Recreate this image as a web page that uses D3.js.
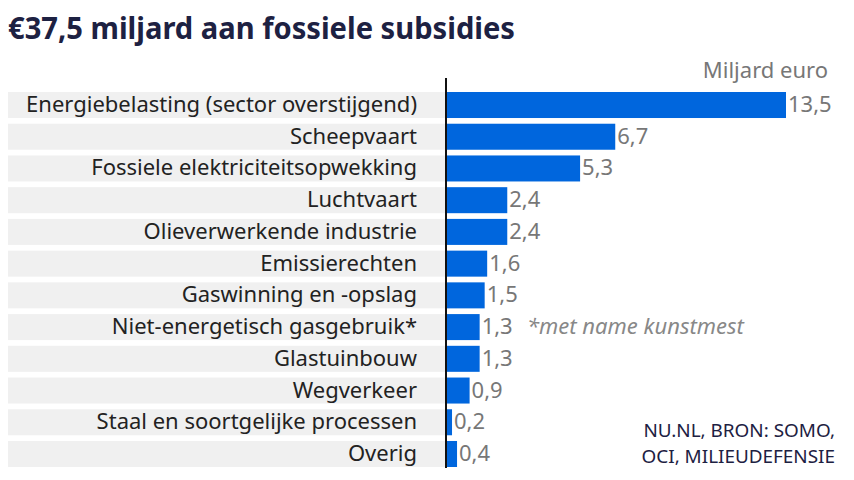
<!DOCTYPE html>
<html><head><meta charset="utf-8">
<script src="https://cdn.jsdelivr.net/npm/d3@7"></script>
<style>body{margin:0;background:#fff}svg{display:block}text{font-family:"Noto Sans",sans-serif}</style>
</head><body><svg id="c" width="854" height="480"></svg>
<script>
const categories = ["Energiebelasting (sector overstijgend)","Scheepvaart","Fossiele elektriciteitsopwekking","Luchtvaart","Olieverwerkende industrie","Emissierechten","Gaswinning en -opslag","Niet-energetisch gasgebruik*","Glastuinbouw","Wegverkeer","Staal en soortgelijke processen","Overig"];
const values = [13.5,6.7,5.3,2.4,2.4,1.6,1.5,1.3,1.3,0.9,0.2,0.4];
const valueLabels = ["13,5","6,7","5,3","2,4","2,4","1,6","1,5","1,3","1,3","0,9","0,2","0,4"];

const svg = d3.select("#c");
const x0 = 447;
const x = d3.scaleLinear().domain([0,13.5]).range([x0,786]);
const y = d3.scaleBand().domain(categories).range([92,467]).paddingInner(0.18).paddingOuter(0);

svg.append("text").attr("x",8).attr("y",39).attr("font-size",30).attr("font-weight",700).attr("fill","#1d2142")
  .attr("textLength",507).attr("lengthAdjust","spacingAndGlyphs").text("€37,5 miljard aan fossiele subsidies");

const rows = svg.append("g");
rows.selectAll("rect.band").data(categories).join("rect")
  .attr("x",8).attr("width",x0-8).attr("y",d=>y(d)).attr("height",y.bandwidth()).attr("fill","#f0f0f0");
rows.selectAll("rect.bar").data(values).join("rect")
  .attr("x",x0).attr("y",(d,i)=>y(categories[i])).attr("height",y.bandwidth())
  .attr("width",d=>x(d)-x0).attr("fill","#0066dd");
rows.selectAll("text.lab").data(categories).join("text")
  .attr("x",417).attr("y",d=>y(d)+y.bandwidth()/2).attr("dy","0.32em").attr("text-anchor","end")
  .attr("font-size",22).attr("fill","#222").text(d=>d);
rows.selectAll("text.val").data(values).join("text")
  .attr("x",d=>x(d)+2).attr("y",(d,i)=>y(categories[i])+y.bandwidth()/2).attr("dy","0.32em")
  .attr("font-size",22).attr("fill","#777").text((d,i)=>valueLabels[i]);

svg.append("line").attr("x1",446).attr("x2",446).attr("y1",78).attr("y2",468).attr("stroke","#111").attr("stroke-width",2);

svg.append("text").attr("x",828).attr("y",78).attr("text-anchor","end").attr("font-size",22).attr("fill","#777").text("Miljard euro");
svg.append("text").attr("x",527).attr("y",y(categories[7])+y.bandwidth()/2).attr("dy","0.32em").attr("font-size",22).attr("font-style","italic").attr("fill","#888").text("*met name kunstmest");
svg.append("text").attr("x",835).attr("y",437).attr("text-anchor","end").attr("font-size",18.9).attr("fill","#1d2142").text("NU.NL, BRON: SOMO,");
svg.append("text").attr("x",835).attr("y",463).attr("text-anchor","end").attr("font-size",18.9).attr("fill","#1d2142").text("OCI, MILIEUDEFENSIE");
</script></body></html>
